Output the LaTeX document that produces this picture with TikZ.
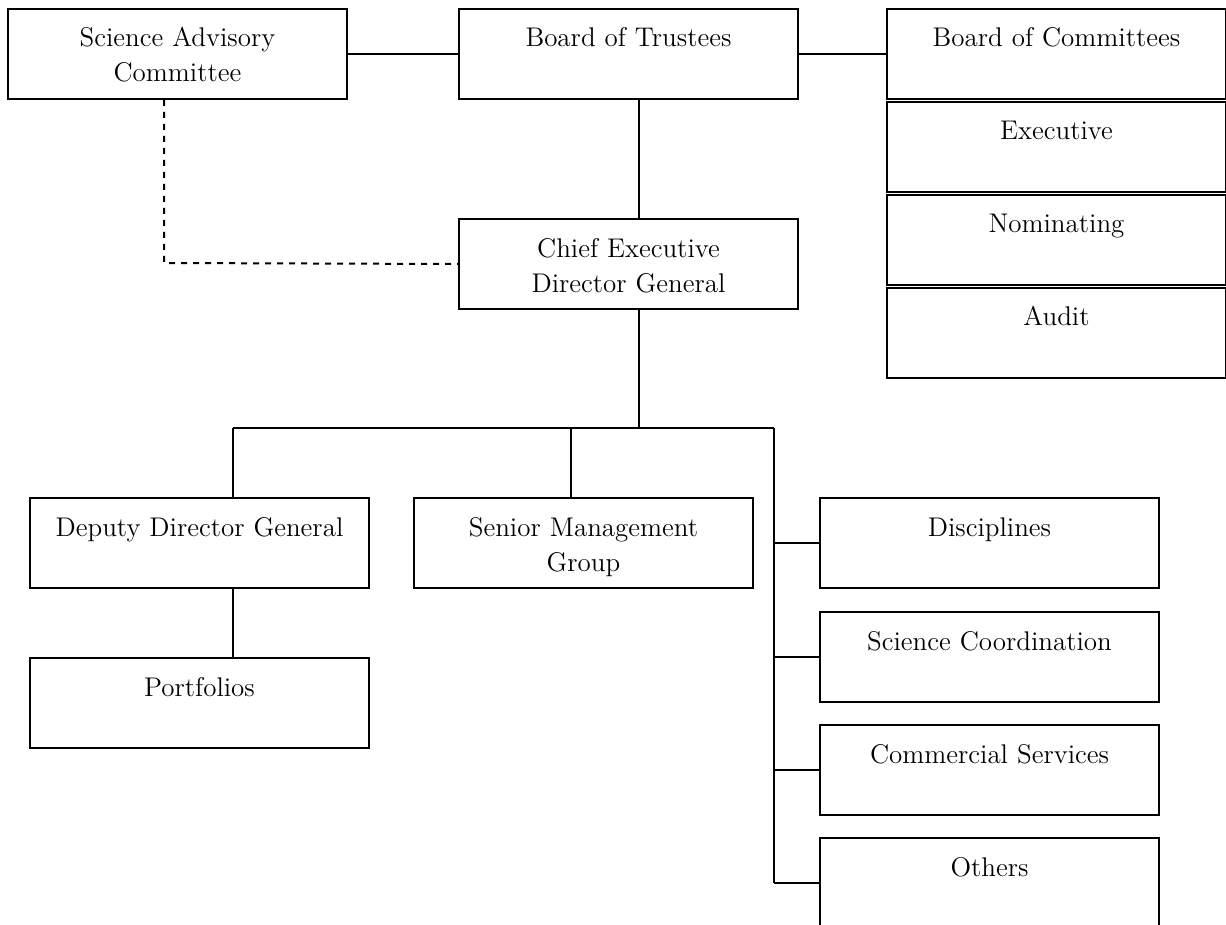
\documentclass[tikz,border=0pt]{standalone}
\usepackage{tikz}

\begin{document}
\begin{tikzpicture}[x=0.5pt, y=-0.5pt, line width=1pt,
    unit/.style={draw, rectangle, anchor=north west, inner sep=0pt,
        text width=169.5pt, align=center, text height=19pt, text depth=26pt,
        font=\fontsize{13.5}{17.5}\selectfont}]
    \useasboundingbox (0,0) rectangle (1226,925);
    \node[unit] (sac) at (7,8) {Science Advisory\\Committee};
    \node[unit] (bot) at (458,8) {Board of Trustees};
    \node[unit] (boc) at (886,8) {Board of Committees};
    \node[unit] (exe) at (886,101) {Executive};
    \node[unit] (nom) at (886,194) {Nominating};
    \node[unit] (aud) at (886,287) {Audit};
    \node[unit] (ceo) at (458,218) {Chief Executive\\Director General};
    \node[unit] (ddg) at (29,497) {Deputy Director General};
    \node[unit] (smg) at (413,497) {Senior Management\\Group};
    \node[unit] (por) at (29,657) {Portfolios};
    \node[unit] (dis) at (819,497) {Disciplines};
    \node[unit] (sco) at (819,611) {Science Coordination};
    \node[unit] (com) at (819,724) {Commercial Services};
    \node[unit] (oth) at (819,837) {Others};
    \coordinate (spine) at (639,428);
    \coordinate (busL) at (233,428);
    \coordinate (busM) at (571,428);
    \coordinate (busR) at (774,428);
    \coordinate (bend) at (164,263);
    \draw (sac.east) -- (bot.west);
    \draw (bot.east) -- (boc.west);
    \draw (bot.south -| spine) -- (ceo.north -| spine);
    \draw (ceo.south -| spine) -- (spine);
    \draw[dashed] (sac.south -| bend) -- (bend) -- (ceo.west);
    \draw (busL) -- (busR);
    \draw (busL) -- (busL |- ddg.north);
    \draw (busM) -- (busM |- smg.north);
    \draw (ddg.south -| busL) -- (por.north -| busL);
    \draw (busR) -- (busR |- oth.west);
    \draw (busR |- dis.west) -- (dis.west);
    \draw (busR |- sco.west) -- (sco.west);
    \draw (busR |- com.west) -- (com.west);
    \draw (busR |- oth.west) -- (oth.west);
\end{tikzpicture}
\end{document}
